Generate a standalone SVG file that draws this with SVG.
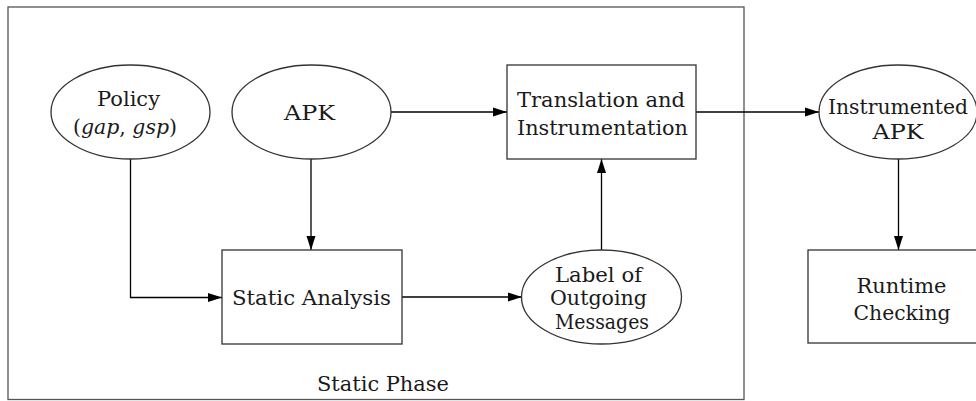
<svg xmlns="http://www.w3.org/2000/svg" width="976" height="401" viewBox="0 0 976 401">
  <defs>
    <marker id="arrow" viewBox="0 0 14 10" refX="14" refY="5" markerWidth="14" markerHeight="10" markerUnits="userSpaceOnUse" orient="auto">
      <path d="M0,0.5 L14,5 L0,9.5 Z" fill="#000"/>
    </marker>
    <style>
      .frame { fill: none; stroke: #555; stroke-width: 1.3; }
      .node { fill: #fff; stroke: #333; stroke-width: 1.3; }
      .edge { fill: none; stroke: #000; stroke-width: 1.3; marker-end: url(#arrow); }
      .lbl { font-family: 'DejaVu Serif', 'Liberation Serif', serif; font-size: 20px; fill: #1a1a1a; text-anchor: middle; }
      .it { font-style: italic; }
    </style>
  </defs>
  <rect width="976" height="401" fill="#fff"/>

  <!-- static phase frame -->
  <g id="static-phase">
    <rect class="frame" x="8" y="7" width="736" height="392.5"/>
    <text class="lbl" x="383" y="391" textLength="132" lengthAdjust="spacingAndGlyphs">Static Phase</text>
  </g>

  <!-- connectors -->
  <g id="connectors">
    <path class="edge" d="M391,112 H507"/>
    <path class="edge" d="M696,112 H819"/>
    <path class="edge" d="M898.5,159 V250"/>
    <path class="edge" d="M311,159 V250"/>
    <path class="edge" d="M130.5,159 V297.5 H222"/>
    <path class="edge" d="M402,297 H522"/>
    <path class="edge" d="M601.5,250 V159"/>
  </g>

  <g id="policy">
    <ellipse class="node" cx="130.5" cy="112" rx="79.5" ry="47"/>
    <text class="lbl" x="128.5" y="106" textLength="63" lengthAdjust="spacingAndGlyphs">Policy</text>
    <text class="lbl" x="125" y="134" textLength="104" lengthAdjust="spacingAndGlyphs">(<tspan class="it">gap</tspan>, <tspan class="it">gsp</tspan>)</text>
  </g>

  <g id="apk">
    <ellipse class="node" cx="311.5" cy="112" rx="79.5" ry="47"/>
    <text class="lbl" x="309.5" y="120" textLength="51" lengthAdjust="spacingAndGlyphs">APK</text>
  </g>

  <g id="translation">
    <rect class="node" x="507" y="65" width="189" height="94"/>
    <text class="lbl" x="601" y="106.5" textLength="168" lengthAdjust="spacingAndGlyphs">Translation and</text>
    <text class="lbl" x="602.5" y="135" textLength="171" lengthAdjust="spacingAndGlyphs">Instrumentation</text>
  </g>

  <g id="instrumented-apk">
    <ellipse class="node" cx="898" cy="112" rx="79" ry="47"/>
    <text class="lbl" x="898" y="113.5" textLength="140" lengthAdjust="spacingAndGlyphs">Instrumented</text>
    <text class="lbl" x="898" y="139" textLength="51" lengthAdjust="spacingAndGlyphs">APK</text>
  </g>

  <g id="static-analysis">
    <rect class="node" x="222" y="250" width="180" height="94"/>
    <text class="lbl" x="311.5" y="305" textLength="159" lengthAdjust="spacingAndGlyphs">Static Analysis</text>
  </g>

  <g id="label-outgoing">
    <ellipse class="node" cx="601.5" cy="297" rx="80" ry="47"/>
    <text class="lbl" x="598.5" y="281.5" textLength="87" lengthAdjust="spacingAndGlyphs">Label of</text>
    <text class="lbl" x="598.5" y="305" textLength="97" lengthAdjust="spacingAndGlyphs">Outgoing</text>
    <text class="lbl" x="602" y="328.5" textLength="94" lengthAdjust="spacingAndGlyphs">Messages</text>
  </g>

  <g id="runtime-checking">
    <rect class="node" x="808" y="250" width="186" height="93"/>
    <text class="lbl" x="901.5" y="293" textLength="90" lengthAdjust="spacingAndGlyphs">Runtime</text>
    <text class="lbl" x="902" y="320" textLength="97" lengthAdjust="spacingAndGlyphs">Checking</text>
  </g>
</svg>
